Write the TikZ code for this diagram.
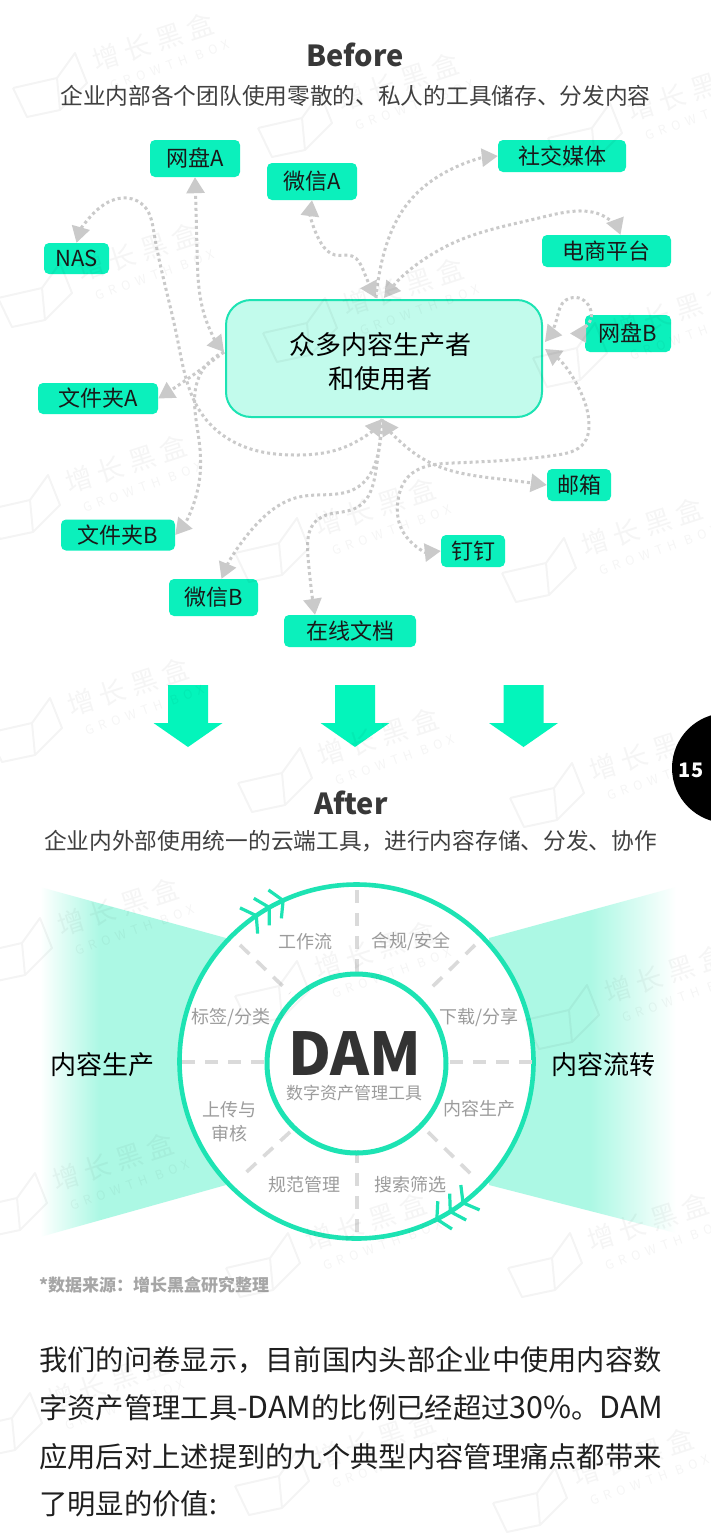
\documentclass[tikz,border=0pt]{standalone}
\usepackage{fontspec}
\setmainfont{Noto Sans CJK SC}
\usetikzlibrary{arrows.meta,hobby,calc}
\definecolor{nodegreen}{HTML}{0BF0BC}
\definecolor{ringgreen}{HTML}{1DE3B3}
\definecolor{boxmint}{HTML}{C2FBEC}
\definecolor{fanmint}{HTML}{ACF8E4}
\definecolor{arrowgreen}{HTML}{03F5BB}
\definecolor{flowgray}{HTML}{CACACA}
\definecolor{spokegray}{HTML}{DADADA}
\definecolor{labelgray}{HTML}{9C9C9C}
\definecolor{wm}{HTML}{000000}
\pgfdeclarehorizontalshading{fanleft}{100bp}{color(0bp)=(white); color(25bp)=(white); color(41bp)=(fanmint); color(100bp)=(fanmint)}
\pgfdeclarehorizontalshading{fanright}{100bp}{color(0bp)=(fanmint); color(52bp)=(fanmint); color(75bp)=(white); color(100bp)=(white)}
\tikzset{
  x=1pt,y=-1pt,
  pill/.style={fill=nodegreen,rounded corners=5pt,inner sep=0pt,font=\fontsize{22}{26}\selectfont,text=black!90},
  flow/.style={draw=flowgray,line width=3pt,dash pattern=on 3pt off 3pt,use Hobby shortcut},
  tipend/.style={-{Triangle[length=16pt,width=18pt,color=flowgray,sep=0pt]}},
  tipboth/.style={{Triangle[length=16pt,width=18pt,color=flowgray]}-{Triangle[length=16pt,width=18pt,color=flowgray]}},
  spoke/.style={draw=spokegray,line width=3.6pt,dash pattern=on 13pt off 10pt},
  ringlabel/.style={text=labelgray,font=\fontsize{18}{24}\selectfont,inner sep=0pt,align=center},
  bigarrow/.style={fill=arrowgreen,draw=none},
  chev/.style={draw=ringgreen,line width=3.2pt},
  headline/.style={font=\fontsize{29}{32}\selectfont\bfseries,text=black!78,inner sep=0pt},
  subline/.style={font=\fontsize{22.7}{28}\selectfont,text=black!75,inner sep=0pt},
  bodyline/.style={font=\fontsize{28.3}{34}\selectfont,text=black!88,inner sep=0pt,anchor=west},
  wmlogo/.style={draw=wm,opacity=.045,line width=2pt,line join=round},
  wmhan/.style={text=wm,opacity=.04,rotate=18,font=\fontsize{27}{30}\selectfont,inner sep=0pt},
  wmlat/.style={text=wm,opacity=.04,rotate=20,font=\fontsize{12.5}{14}\selectfont\addfontfeature{LetterSpace=45},inner sep=0pt},
}
\newcommand{\bigdown}[1]{%
  \fill[bigarrow] (#1-20,685) -- (#1+20,685) -- (#1+20,723) -- (#1+34.5,723) -- (#1,747) -- (#1-34.5,723) -- (#1-20,723) -- cycle;}
\newcommand{\bodylatin}[1]{{\fontsize{30.4}{34}\selectfont #1}}
\newcommand{\fwcomma}{\symbol{"FF0C}}
\newcommand{\fwcolon}{\symbol{"FF1A}}
\begin{document}
\begin{tikzpicture}
\useasboundingbox (0,0) rectangle (710,1537);
\fill[white] (0,0) rectangle (710,1537);

% titles
\node[headline] (before) at (355,55) {Before};
\node[subline] (subbefore) at (355.5,96) {企业内部各个团队使用零散的、私人的工具储存、分发内容};
\node[headline] (after) at (351,803) {After};
\node[subline] (subafter) at (350.5,841) {企业内外部使用统一的云端工具\fwcomma 进行内容存储、分发、协作};

% central box
\node[draw=ringgreen,fill=boxmint,line width=2pt,rounded corners=25pt,minimum width=316pt,minimum height=117pt,inner sep=0pt] (main) at (384,358.5) {};
\node[font=\fontsize{26}{34}\selectfont,align=center,text=black,inner sep=0pt] (maintext) at (380,362) {众多内容生产者\\和使用者};

% tool nodes
\node[pill,minimum width=90pt,minimum height=37pt] (panA) at (195,158.5) {网盘A};
\node[pill,minimum width=90pt,minimum height=37pt] (wxA) at (312,181.5) {微信A};
\node[pill,minimum width=128pt,minimum height=32pt] (social) at (562,156) {社交媒体};
\node[pill,minimum width=129pt,minimum height=32pt] (shop) at (606.5,251) {电商平台};
\node[pill,minimum width=65pt,minimum height=31pt] (nas) at (76.5,258.5) {NAS};
\node[pill,minimum width=86pt,minimum height=37pt] (panB) at (628,333.5) {网盘B};
\node[pill,minimum width=120pt,minimum height=31pt] (dirA) at (98,398.5) {文件夹A};
\node[pill,minimum width=114pt,minimum height=31pt] (dirB) at (118,535) {文件夹B};
\node[pill,minimum width=89pt,minimum height=37pt] (wxB) at (213.5,597.5) {微信B};
\node[pill,minimum width=132pt,minimum height=32pt] (doc) at (350,631) {在线文档};
\node[pill,minimum width=64pt,minimum height=32pt] (mail) at (579,485) {邮箱};
\node[pill,minimum width=64pt,minimum height=32pt] (ding) at (473,551) {钉钉};

% hubs on the box
\coordinate (hubT1) at (376,298);
\coordinate (hubT2) at (384,298);
\coordinate (hubB) at (382,419);
\coordinate (hubL) at (224,352);
\coordinate (hubR1) at (545,342);
\coordinate (hubR2) at (545,349);
\coordinate (loopB) at (584,328);
\coordinate (tipB) at (570,333.5);

% connectors
\draw[flow,tipboth] (hubT1) .. (364,272) .. (352,256) .. (335,255) .. (321,243) .. (wxA.south);
\draw[flow,tipend] (hubT1) .. (380,270) .. (408,203) .. (444,173) .. (social.west);
\draw[flow,tipboth] (hubT2) .. (453,243) .. (543,217) .. (612,222) .. ([xshift=14pt]shop.north);
\draw[flow,{Triangle[length=16pt,width=18pt,color=flowgray]}-] (hubR1) .. (557,318) .. (566,300) .. (loopB);
\draw[flow,tipend] (panB.west) -- (tipB);
\draw[flow,tipboth] (hubR2) .. (584,400) .. (589,425) .. (584,443) .. (557,455) .. (453,463) .. (408,477) .. (398,500) .. (402,530) .. (ding.west);
\draw[flow,tipboth] (hubB) .. (410,450) .. (435,465) .. (500,479) .. (mail.west);
\draw[flow,tipboth] (hubB) .. (345,447) .. (294,455) .. (254,450) .. (204,417) .. (177,337) .. (154,233) .. (145,207) .. (127,198) .. (97,210) .. (nas.north);
\draw[flow,tipboth] (hubL) .. (206,320) .. (197,250) .. (panA.south);
\draw[flow,tipend] (hubL) .. (199,377) .. (199,440) .. (199,483) .. (dirB.east);
\draw[flow,tipend] (hubL) .. (186,380) .. (dirA.east);
\draw[flow,tipend] (hubB) .. (380,443) .. (358,487) .. (299,497) .. (254,527) .. ([xshift=8pt]wxB.north);
\draw[flow,tipend] (hubB) .. (376,470) .. (358,507) .. (317,520) .. (308,557) .. ([xshift=-35pt]doc.north);

% big arrows
\bigdown{188}
\bigdown{355}
\bigdown{523.5}

% page badge
\fill[black] (727,768) circle (55);
\node[text=white,font=\fontsize{20}{24}\selectfont\bfseries,inner sep=0pt] (badge) at (691,770) {15};

% fans
\shade[shading=fanleft] (40,887) -- (226,938) -- (226,1185) -- (40,1237) -- cycle;
\shade[shading=fanright] (489,938) -- (676,887) -- (676,1233) -- (489,1185) -- cycle;

% ring
\coordinate (c) at (356.5,1061.5);
\draw[ringgreen,line width=4.6pt,fill=white] (c) circle (177);
\draw[spoke] (357,890) -- (357,975);
\draw[spoke] (357,1150) -- (357,1235);
\draw[spoke] (182,1062) -- (265,1062);
\draw[spoke] (450,1062) -- (533,1062);
\draw[spoke] (240,945) -- (290,993);
\draw[spoke] (475,945) -- (426,993);
\draw[spoke] (290,1132) -- (240,1178);
\draw[spoke] (428,1132) -- (475,1178);
\draw[ringgreen,line width=5pt] (356.5,1063.5) circle (89.5);

\foreach \a in {-114.5,-119.5,-124.5,63,58,53}{
  \draw[chev] ([shift={(\a-30:18)}]$(c)+(\a:177)$) -- ($(c)+(\a:177)$) -- ([shift={(\a-150:18)}]$(c)+(\a:177)$);
}

% ring texts
\node[inner sep=0pt,font=\fontsize{59}{60}\selectfont\bfseries,text=black!80] (dam) at (355,1054) {DAM};
\node[ringlabel,font=\fontsize{17}{20}\selectfont] (damsub) at (354,1093) {数字资产管理工具};
\node[ringlabel] (l1) at (305,942) {工作流};
\node[ringlabel] (l2) at (411,941) {合规/安全};
\node[ringlabel] (l3) at (231,1017) {标签/分类};
\node[ringlabel] (l4) at (479,1017) {下载/分享};
\node[ringlabel] (l5) at (479,1109) {内容生产};
\node[ringlabel] (l6) at (229,1122) {上传与\\审核};
\node[ringlabel] (l7) at (304,1185) {规范管理};
\node[ringlabel] (l8) at (410,1185) {搜索筛选};
\node[inner sep=0pt,font=\fontsize{26}{30}\selectfont,text=black] (prod) at (102.5,1065) {内容生产};
\node[inner sep=0pt,font=\fontsize{26}{30}\selectfont,text=black] (circ) at (603,1065) {内容流转};

% source + body
\node[inner sep=0pt,anchor=west,font=\fontsize{17}{20}\selectfont\bfseries,text=black!35] (src) at (39,1285) {*数据来源\fwcolon 增长黑盒研究整理};
\node[bodyline] (b1) at (39,1360) {我们的问卷显示\fwcomma 目前国内头部企业中使用内容数};
\node[bodyline] (b2) at (39,1408) {字资产管理工具\bodylatin{-DAM}的比例已经超过\bodylatin{30\%}。\bodylatin{DAM}};
\node[bodyline] (b3) at (39,1457) {应用后对上述提到的九个典型内容管理痛点都带来};
\node[bodyline] (b4) at (39,1504) {了明显的价值:};

% watermark
\foreach \x/\y in {50/85,295/125,585/135,35/295,300/330,570/355,23/507,272/550,539/570,25/730,275/780,547/795,15/950,272/993,562/1017,10/1205,263/1265,545/1265,5/1425,272/1483,530/1500}{
  \begin{scope}[shift={(\x,\y)}]
    \draw[wmlogo] (-37,3) -- (7,-7) -- (25,-32) -- (37,-2) -- (10,25) -- (7,-7) (-37,3) -- (-23,32) -- (10,25);
    \node[wmhan] at (103,-43) {增 长 黑 盒};
    \node[wmlat] at (120,-20) {GROWTH BOX};
  \end{scope}
}
\end{tikzpicture}
\end{document}
